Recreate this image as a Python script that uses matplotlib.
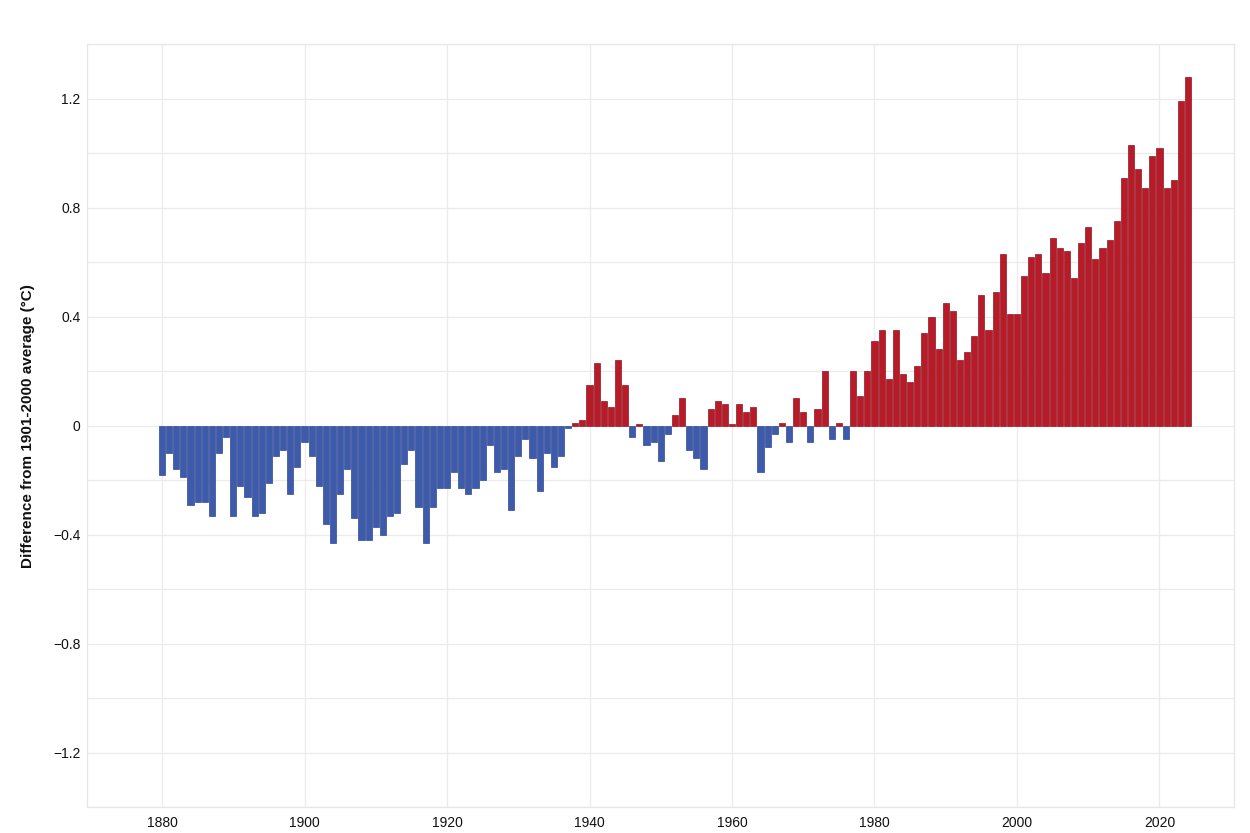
import numpy as np
import matplotlib
matplotlib.use("Agg")
import matplotlib.pyplot as plt
from matplotlib.ticker import MultipleLocator, FuncFormatter

plt.rcParams['font.family'] = ['Liberation Sans', 'DejaVu Sans']

# global temperature anomaly, difference from 1901-2000 average (°C)
years = list(range(1880, 2025))
anomaly = [
    # 1880-1899
    -0.18, -0.10, -0.16, -0.19, -0.29, -0.28, -0.28, -0.33, -0.10, -0.04,
    -0.33, -0.22, -0.26, -0.33, -0.32, -0.21, -0.11, -0.09, -0.25, -0.15,
    # 1900-1919
    -0.06, -0.11, -0.22, -0.36, -0.43, -0.25, -0.16, -0.34, -0.42, -0.42,
    -0.37, -0.40, -0.33, -0.32, -0.14, -0.09, -0.30, -0.43, -0.30, -0.23,
    # 1920-1939
    -0.23, -0.17, -0.23, -0.25, -0.23, -0.20, -0.07, -0.17, -0.16, -0.31,
    -0.11, -0.05, -0.12, -0.24, -0.10, -0.15, -0.11, -0.01, 0.01, 0.02,
    # 1940-1959
    0.15, 0.23, 0.09, 0.07, 0.24, 0.15, -0.04, 0.005, -0.07, -0.06,
    -0.13, -0.03, 0.04, 0.10, -0.09, -0.12, -0.16, 0.06, 0.09, 0.08,
    # 1960-1979
    0.005, 0.08, 0.05, 0.07, -0.17, -0.08, -0.03, 0.01, -0.06, 0.10,
    0.05, -0.06, 0.06, 0.20, -0.05, 0.01, -0.05, 0.20, 0.11, 0.20,
    # 1980-1999
    0.31, 0.35, 0.17, 0.35, 0.19, 0.16, 0.22, 0.34, 0.40, 0.28,
    0.45, 0.42, 0.24, 0.27, 0.33, 0.48, 0.35, 0.49, 0.63, 0.41,
    # 2000-2024
    0.41, 0.55, 0.62, 0.63, 0.56, 0.69, 0.65, 0.64, 0.54, 0.67,
    0.73, 0.61, 0.65, 0.68, 0.75, 0.91, 1.03, 0.94, 0.87, 0.99,
    1.02, 0.87, 0.90, 1.19, 1.28,
]

x_ticks = [1880, 1900, 1920, 1940, 1960, 1980, 2000, 2020]
y_ticks = [-1.2, -0.8, -0.4, 0, 0.4, 0.8, 1.2]

yrs = np.array(years)
vals = np.array(anomaly)
warm = vals >= 0

fig = plt.figure(figsize=(12.5, 8.33), dpi=100)
ax = fig.add_axes([0.0698, 0.0308, 0.9176, 0.9164])

ax.bar(yrs[~warm], vals[~warm], width=0.86, color='#3e5aab',
       edgecolor='#2f4894', linewidth=0.5, zorder=3)
ax.bar(yrs[warm], vals[warm], width=0.86, color='#b81b28',
       edgecolor='#921622', linewidth=0.5, zorder=3)

ax.set_xlim(1869.5, 2030.5)
ax.set_ylim(-1.4, 1.4)

ax.set_xticks(x_ticks)
ax.set_yticks(y_ticks)
ax.yaxis.set_minor_locator(MultipleLocator(0.2))

def fmt(v, pos):
    if abs(v) < 1e-9:
        return "0"
    s = f"{abs(v):.1f}"
    return ("\u2212" + s) if v < 0 else s

ax.yaxis.set_major_formatter(FuncFormatter(fmt))

ax.grid(True, which='major', color='#ebebeb', linewidth=0.9, zorder=0)
ax.grid(True, which='minor', axis='y', color='#ebebeb', linewidth=0.9, zorder=0)
ax.tick_params(which='both', length=0, labelsize=10, colors='#111111')
ax.tick_params(axis='y', pad=5)
ax.tick_params(axis='x', pad=6)

for sp in ax.spines.values():
    sp.set_color('#e6e6e6')
    sp.set_linewidth(0.9)

ax.set_ylabel("Difference from 1901-2000 average (°C)", fontsize=11,
              fontweight='bold', color='#111111', labelpad=13)

fig.savefig("out.png", dpi=100, facecolor='white')
